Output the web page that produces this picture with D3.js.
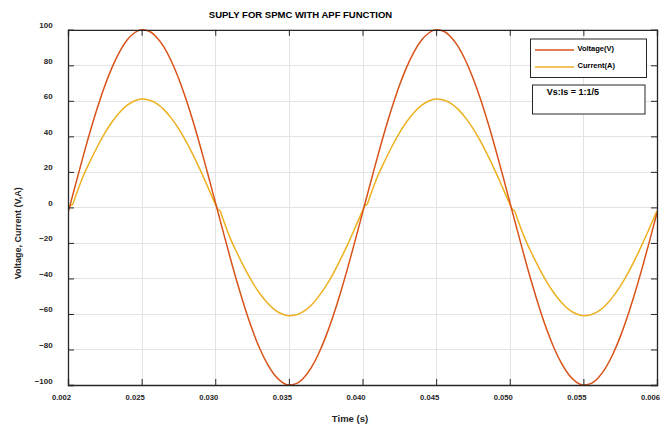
<!DOCTYPE html>
<html><head><meta charset="utf-8">
<script src="https://cdn.jsdelivr.net/npm/d3@7"></script>
<style>
html,body{margin:0;padding:0;background:#fff;}
svg{display:block;font-family:"Liberation Sans",Arial,sans-serif;}
</style></head>
<body><svg id="c" width="669" height="428"></svg>
<script>
// ---- data ----
const chartTitle = "SUPLY FOR SPMC WITH APF FUNCTION";
const xLabel = "Time (s)";
const yLabel = "Voltage, Current (V,A)";
const xTickValues = [0.020, 0.025, 0.030, 0.035, 0.040, 0.045, 0.050, 0.055, 0.060];
const xTickLabels = ["0.002", "0.025", "0.030", "0.035", "0.040", "0.045", "0.050", "0.055", "0.006"];
const yTickValues = [-100, -80, -60, -40, -20, 0, 20, 40, 60, 80, 100];
const seriesNames = ["Voltage(V)", "Current(A)"];
const ratioNote = "Vs:Is = 1:1/5";

const voltageTime = [
 0.0200,0.0205,0.0210,0.0215,0.0220,0.0225,0.0230,0.0235,0.0240,0.0245,
 0.0250,0.0255,0.0260,0.0265,0.0270,0.0275,0.0280,0.0285,0.0290,0.0295,
 0.0300,0.0305,0.0310,0.0315,0.0320,0.0325,0.0330,0.0335,0.0340,0.0345,
 0.0350,0.0355,0.0360,0.0365,0.0370,0.0375,0.0380,0.0385,0.0390,0.0395,
 0.0400,0.0405,0.0410,0.0415,0.0420,0.0425,0.0430,0.0435,0.0440,0.0445,
 0.0450,0.0455,0.0460,0.0465,0.0470,0.0475,0.0480,0.0485,0.0490,0.0495,
 0.0500,0.0505,0.0510,0.0515,0.0520,0.0525,0.0530,0.0535,0.0540,0.0545,
 0.0550,0.0555,0.0560,0.0565,0.0570,0.0575,0.0580,0.0585,0.0590,0.0595,
 0.0600];
const voltage = [
 -3.1,12.5,27.9,42.6,56.2,68.5,79.0,87.6,94.1,98.2,
 100.0,99.2,96.0,90.5,82.7,72.9,61.3,48.2,33.9,18.7,
 3.1,-12.5,-27.9,-42.6,-56.2,-68.5,-79.0,-87.6,-94.1,-98.2,
 -100.0,-99.2,-96.0,-90.5,-82.7,-72.9,-61.3,-48.2,-33.9,-18.7,
 -3.1,12.5,27.9,42.6,56.2,68.5,79.0,87.6,94.1,98.2,
 100.0,99.2,96.0,90.5,82.7,72.9,61.3,48.2,33.9,18.7,
 3.1,-12.5,-27.9,-42.6,-56.2,-68.5,-79.0,-87.6,-94.1,-98.2,
 -100.0,-99.2,-96.0,-90.5,-82.7,-72.9,-61.3,-48.2,-33.9,-18.7,
 -3.1];

const currentTime = [
 0.0200,0.0201,0.0202,0.0203,0.0205,0.0210,0.0215,0.0220,0.0225,0.0230,0.0235,0.0240,0.0245,
 0.0250,0.0255,0.0260,0.0265,0.0270,0.0275,0.0280,0.0285,0.0290,0.0295,
 0.0300,0.0301,0.0302,0.0303,0.0305,0.0310,0.0315,0.0320,0.0325,0.0330,0.0335,0.0340,0.0345,
 0.0350,0.0355,0.0360,0.0365,0.0370,0.0375,0.0380,0.0385,0.0390,0.0395,
 0.0400,0.0401,0.0402,0.0403,0.0405,0.0410,0.0415,0.0420,0.0425,0.0430,0.0435,0.0440,0.0445,
 0.0450,0.0455,0.0460,0.0465,0.0470,0.0475,0.0480,0.0485,0.0490,0.0495,
 0.0500,0.0501,0.0502,0.0503,0.0505,0.0510,0.0515,0.0520,0.0525,0.0530,0.0535,0.0540,0.0545,
 0.0550,0.0555,0.0560,0.0565,0.0570,0.0575,0.0580,0.0585,0.0590,0.0595,
 0.0600];
const current = [
 -1.9,0.0,1.3,1.6,6.0,17.0,26.0,34.3,41.8,48.2,53.4,57.4,59.9,
 61.0,60.5,58.6,55.2,50.4,44.5,37.4,29.4,20.7,11.4,
 1.9,0.0,-1.3,-1.6,-6.0,-17.0,-26.0,-34.3,-41.8,-48.2,-53.4,-57.4,-59.9,
 -61.0,-60.5,-58.6,-55.2,-50.4,-44.5,-37.4,-29.4,-20.7,-11.4,
 -1.9,0.0,1.3,1.6,6.0,17.0,26.0,34.3,41.8,48.2,53.4,57.4,59.9,
 61.0,60.5,58.6,55.2,50.4,44.5,37.4,29.4,20.7,11.4,
 1.9,0.0,-1.3,-1.6,-6.0,-17.0,-26.0,-34.3,-41.8,-48.2,-53.4,-57.4,-59.9,
 -61.0,-60.5,-58.6,-55.2,-50.4,-44.5,-37.4,-29.4,-20.7,-11.4,
 -1.9];

const colors = ["#d95319", "#edb120"];

// ---- layout ----
const svg = d3.select("#c");
const L = 68, R = 657, T = 29.8, B = 385;
const x = d3.scaleLinear().domain([0.020, 0.060]).range([L, R]);
const y = d3.scaleLinear().domain([-100, 100]).range([B, T]);

svg.append("rect").attr("width", 669).attr("height", 428).attr("fill", "#fff");

// grid
const grid = svg.append("g").attr("stroke", "#e3e3e3").attr("stroke-width", 1);
grid.selectAll(".gx").data(xTickValues).join("line")
  .attr("x1", d => Math.round(x(d)) + 0.5).attr("x2", d => Math.round(x(d)) + 0.5)
  .attr("y1", T).attr("y2", B);
grid.selectAll(".gy").data(yTickValues).join("line")
  .attr("x1", L).attr("x2", R)
  .attr("y1", d => Math.round(y(d)) + 0.5).attr("y2", d => Math.round(y(d)) + 0.5);

// lines
const clip = svg.append("clipPath").attr("id", "clp").append("rect")
  .attr("x", L).attr("y", T - 2).attr("width", R - L).attr("height", B - T + 4);

function drawLine(ts, vs, color) {
  const pts = ts.map((t, i) => [t, vs[i]]);
  svg.append("path").datum(pts)
    .attr("clip-path", "url(#clp)")
    .attr("fill", "none").attr("stroke", color).attr("stroke-width", 1.5)
    .attr("stroke-linejoin", "round")
    .attr("d", d3.line().x(d => x(d[0])).y(d => y(d[1])).curve(d3.curveMonotoneX));
}
drawLine(currentTime, current, colors[1]);
drawLine(voltageTime, voltage, colors[0]);

// axes (ticks inward)
const fmtX = (d, i) => xTickLabels[i];
const axB = svg.append("g").attr("transform", `translate(0,${B})`)
  .call(d3.axisBottom(x).tickValues(xTickValues).tickSize(-6).tickFormat(fmtX));
const axT = svg.append("g").attr("transform", `translate(0,${T})`)
  .call(d3.axisTop(x).tickValues(xTickValues).tickSize(-6).tickFormat(""));
const axL = svg.append("g").attr("transform", `translate(${L},0)`)
  .call(d3.axisLeft(y).tickValues(yTickValues).tickSize(-6).tickFormat(d3.format("d")));
const axR = svg.append("g").attr("transform", `translate(${R},0)`)
  .call(d3.axisRight(y).tickValues(yTickValues).tickSize(-6).tickFormat(""));

[axB, axT, axL, axR].forEach(a => {
  a.select(".domain").attr("stroke", "#262626").attr("stroke-width", 1.3);
  a.selectAll(".tick line").attr("stroke", "#262626").attr("stroke-width", 1);
});
axB.selectAll(".tick text")
  .attr("font-family", "Liberation Sans, Arial, sans-serif")
  .attr("font-size", 7.7).attr("font-weight", "bold").attr("fill", "#262626")
  .attr("dx", -7).attr("y", 0).attr("dy", 15);
axL.selectAll(".tick text")
  .attr("font-family", "Liberation Sans, Arial, sans-serif")
  .attr("font-size", 8).attr("font-weight", "bold").attr("fill", "#262626")
  .attr("x", -15.3).attr("dy", -2);

// title & labels
svg.append("text").attr("x", 300.5).attr("y", 18.4).attr("text-anchor", "middle")
  .attr("font-size", 9.5).attr("font-weight", "bold").attr("fill", "#000").text(chartTitle);
svg.append("text").attr("x", 350).attr("y", 421.5).attr("text-anchor", "middle")
  .attr("font-size", 9.5).attr("font-weight", "bold").attr("fill", "#262626").text(xLabel);
svg.append("text").attr("transform", "translate(21.3,233.3) rotate(-90)").attr("text-anchor", "middle")
  .attr("font-size", 9).attr("font-weight", "bold").attr("fill", "#262626").text(yLabel);

// legend
svg.append("rect").attr("x", 530.5).attr("y", 39).attr("width", 116).attr("height", 38.5)
  .attr("fill", "#fff").attr("stroke", "#262626").attr("stroke-width", 1);
seriesNames.forEach((n, i) => {
  const yy = 50 + i * 17;
  svg.append("line").attr("x1", 535).attr("x2", 574).attr("y1", yy).attr("y2", yy)
    .attr("stroke", colors[i]).attr("stroke-width", 1.5);
  svg.append("text").attr("x", 577.5).attr("y", yy + 0.5).attr("font-size", 7.5)
    .attr("font-weight", "bold").attr("fill", "#000").text(n);
});
svg.append("rect").attr("x", 532.5).attr("y", 85).attr("width", 112.5).attr("height", 29)
  .attr("fill", "#fff").attr("stroke", "#262626").attr("stroke-width", 1);
svg.append("text").attr("x", 546.7).attr("y", 95).attr("font-size", 9)
  .attr("font-weight", "bold").attr("fill", "#000").text(ratioNote);
</script></body></html>
